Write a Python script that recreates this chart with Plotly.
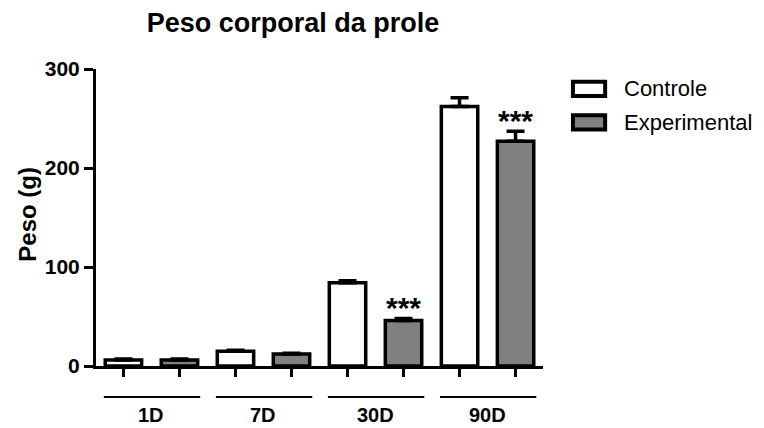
import plotly.graph_objects as go

groups = ["1D", "7D", "30D", "90D"]
series_names = ["Controle", "Experimental"]
controle = [6, 15, 84, 262]
controle_err = [1, 1, 2, 9]
experimental = [6, 12, 46, 227]
experimental_err = [1, 1, 2, 10]
signif = ["", "", "***", "***"]
y_ticks = [0, 100, 200, 300]

FONT = "Liberation Sans, Arial, sans-serif"
GRAY = "#808080"

x_ctrl = [2 * i for i in range(len(groups))]
x_exp = [2 * i + 1 for i in range(len(groups))]

fig = go.Figure()
fig.add_trace(go.Bar(
    x=x_ctrl, y=controle, width=0.65, name=series_names[0],
    marker=dict(color="white", line=dict(color="black", width=3.5)),
    error_y=dict(type="data", array=controle_err, arrayminus=[0]*4, symmetric=False,
                 color="black", thickness=3.5, width=9),
    showlegend=False,
))
fig.add_trace(go.Bar(
    x=x_exp, y=experimental, width=0.65, name=series_names[1],
    marker=dict(color=GRAY, line=dict(color="black", width=3.5)),
    error_y=dict(type="data", array=experimental_err, arrayminus=[0]*4, symmetric=False,
                 color="black", thickness=3.5, width=9),
    showlegend=False,
))

# significance stars
for i, s in enumerate(signif):
    if s:
        fig.add_annotation(x=x_exp[i], y=experimental[i] + experimental_err[i],
                           text="<b>%s</b>" % s,
                           showarrow=False, yanchor="bottom", yshift=-8,
                           font=dict(family=FONT, size=30, color="black"))

# group underlines and labels
for i, g in enumerate(groups):
    fig.add_shape(type="line", xref="x", yref="paper",
                  x0=x_ctrl[i] - 0.35, x1=x_exp[i] + 0.37, y0=-0.104, y1=-0.104,
                  line=dict(color="black", width=2))
    fig.add_annotation(x=(x_ctrl[i] + x_exp[i]) / 2, xref="x", y=-0.166, yref="paper",
                       text="<b>%s</b>" % g, showarrow=False, yanchor="middle",
                       font=dict(family=FONT, size=20, color="black"))

# custom legend
leg_y = [0.933, 0.82]
fills = ["white", GRAY]
for name, yy, f in zip(series_names, leg_y, fills):
    fig.add_shape(type="rect", xref="paper", yref="paper",
                  x0=1.067, x1=1.139, y0=yy - 0.024, y1=yy + 0.024,
                  fillcolor=f, line=dict(color="black", width=4))
    fig.add_annotation(x=1.177, y=yy, xref="paper", yref="paper", text=name,
                       showarrow=False, xanchor="left", yanchor="middle",
                       font=dict(family=FONT, size=22, color="black"))

# y-axis title
fig.add_annotation(x=-0.154, y=0.51, xref="paper", yref="paper", text="<b>Peso (g)</b>",
                   textangle=-90, showarrow=False, xanchor="center", yanchor="middle",
                   font=dict(family=FONT, size=24, color="black"))

fig.update_layout(
    width=764, height=428,
    margin=dict(l=96, r=221, t=69, b=62),
    plot_bgcolor="white", paper_bgcolor="white",
    barmode="overlay",
    title=dict(text="<b>Peso corporal da prole</b>", x=293/764, xanchor="center",
               y=1 - 23/428, yanchor="middle",
               font=dict(family=FONT, size=27, color="black")),
    xaxis=dict(range=[-0.49, 7.49], tickvals=x_ctrl + x_exp, showticklabels=False,
               ticks="outside", ticklen=8, tickwidth=3, tickcolor="black",
               showline=True, linecolor="black", linewidth=3, showgrid=False, zeroline=False),
    yaxis=dict(range=[0, 300], tickvals=y_ticks, ticktext=["<b>%d</b>" % v for v in y_ticks],
               ticks="outside", ticklen=9, tickwidth=3, tickcolor="black",
               tickfont=dict(family=FONT, size=21, color="black"),
               showline=True, linecolor="black", linewidth=3, showgrid=False, zeroline=False),
)

fig.write_html("out.html")
